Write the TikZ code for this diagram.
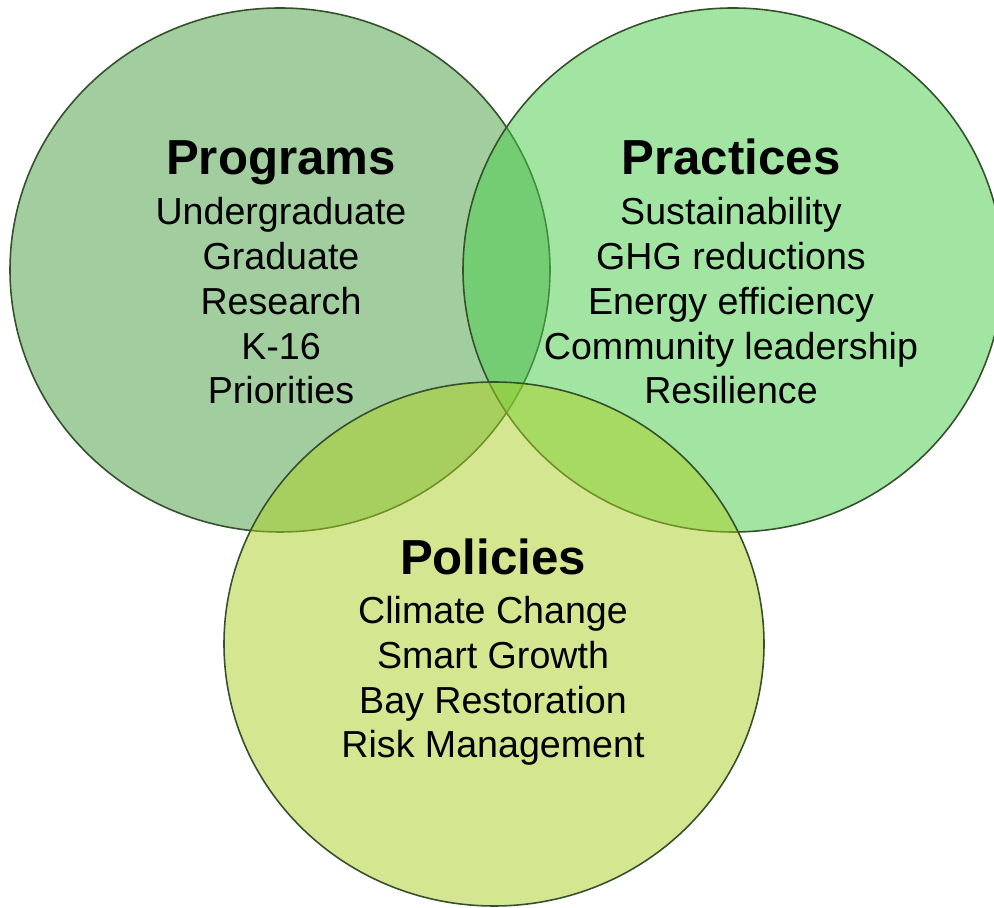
\documentclass[tikz,border=0pt]{standalone}
\usepackage{fontspec}
\setmainfont{Liberation Sans}
\usetikzlibrary{positioning}
\definecolor{progfill}{HTML}{479F41}
\definecolor{pracfill}{HTML}{47CD47}
\definecolor{polifill}{HTML}{ABD123}
\definecolor{ringline}{HTML}{35502D}

\begin{document}
\begin{tikzpicture}[
  ring/.style={fill opacity=0.5, draw=ringline, line width=0.9pt},
  heading/.style={inner sep=0pt, anchor=base, font=\fontsize{28}{33}\selectfont\bfseries},
  items/.style={inner sep=0pt, align=center, font=\fontsize{21.4}{25.6}\selectfont}]
  \clip (0,0) rectangle (19.88,18.16);
  \fill[white] (0,0) rectangle (19.88,18.16);
  % the three rings
  \coordinate (progC) at (5.60,12.76);
  \coordinate (pracC) at (14.66,12.76);
  \coordinate (poliC) at (9.88,5.28);
  \draw[ring, fill=progfill] (progC) ellipse [x radius=5.40, y radius=5.24];
  \draw[ring, fill=pracfill] (pracC) ellipse [x radius=5.40, y radius=5.24];
  \draw[ring, fill=polifill] (poliC) ellipse [x radius=5.40, y radius=5.24];
  % headings and their lists (lists hang from the base of their last line)
  \node[heading] (progT) at (5.62,14.66) {Programs};
  \node[items, below=4.58cm of progT.base, anchor=base] (progL)
    {Undergraduate\\Graduate\\Research\\K-16\\Priorities};
  \node[heading] (pracT) at (14.62,14.66) {Practices};
  \node[items, below=4.58cm of pracT.base, anchor=base] (pracL)
    {Sustainability\\GHG reductions\\Energy efficiency\\Community leadership\\Resilience};
  \node[heading] (poliT) at (9.86,6.66) {Policies};
  \node[items, below=3.66cm of poliT.base, anchor=base] (poliL)
    {Climate Change\\Smart Growth\\Bay Restoration\\Risk Management};
\end{tikzpicture}
\end{document}
